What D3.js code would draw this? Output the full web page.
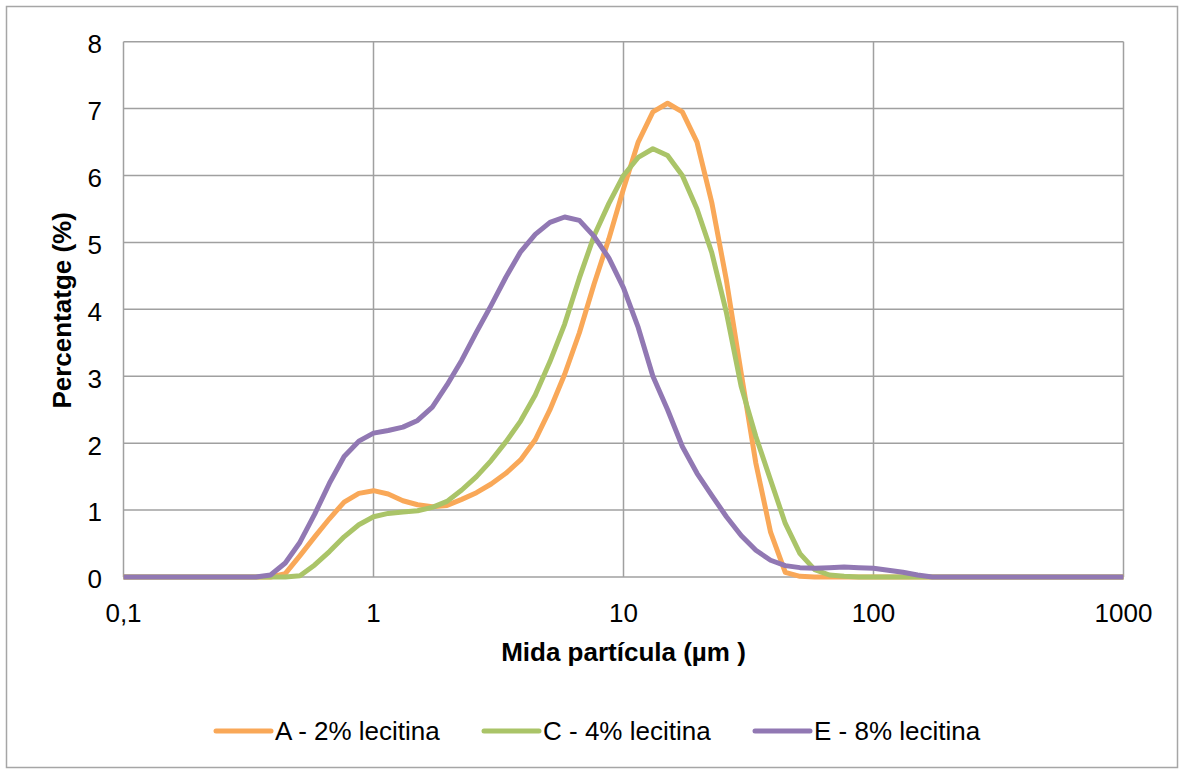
<!DOCTYPE html>
<html>
<head>
<meta charset="utf-8">
<script src="https://cdn.jsdelivr.net/npm/d3@7"></script>
<style>
  body { margin: 0; background: #fff; }
  svg { display: block; font-family: "Liberation Sans", Arial, sans-serif; }
</style>
</head>
<body>
<div id="chart"></div>
<script>
// particle sizes (µm)
const sizes = [0.1, 0.2955, 0.3383, 0.3875, 0.4437, 0.5081, 0.5818, 0.6662, 0.7629, 0.8736,
  1.0, 1.145, 1.311, 1.501, 1.719, 1.968, 2.254, 2.581, 2.955, 3.384,
  3.875, 4.437, 5.080, 5.817, 6.661, 7.627, 8.733, 10.0, 11.45, 13.11,
  15.01, 17.19, 19.68, 22.54, 25.81, 29.55, 33.84, 38.75, 44.37, 50.80,
  58.17, 66.61, 76.27, 87.33, 100.0, 114.5, 131.1, 150.1, 171.9, 196.8, 1000];

const serieA = [0, 0, 0, 0, 0.05, 0.32, 0.60, 0.87, 1.12, 1.25,
  1.29, 1.24, 1.14, 1.08, 1.05, 1.07, 1.16, 1.26, 1.39, 1.55,
  1.75, 2.05, 2.50, 3.03, 3.65, 4.38, 5.05, 5.80, 6.50, 6.95,
  7.08, 6.95, 6.50, 5.60, 4.43, 3.05, 1.70, 0.67, 0.07, 0.01,
  0, 0, 0, 0, 0, 0, 0, 0, 0, 0, 0];

const serieC = [0, 0, 0, 0, 0, 0.02, 0.18, 0.38, 0.60, 0.78,
  0.90, 0.95, 0.97, 0.99, 1.04, 1.13, 1.30, 1.50, 1.74, 2.02,
  2.33, 2.72, 3.22, 3.78, 4.47, 5.10, 5.58, 6.00, 6.27, 6.40,
  6.30, 6.00, 5.50, 4.85, 3.95, 2.85, 2.10, 1.45, 0.80, 0.35,
  0.11, 0.03, 0.01, 0, 0, 0, 0, 0, 0, 0, 0];

const serieE = [0, 0, 0, 0.03, 0.21, 0.52, 0.94, 1.40, 1.80, 2.03,
  2.15, 2.19, 2.24, 2.34, 2.54, 2.87, 3.24, 3.66, 4.06, 4.48,
  4.86, 5.12, 5.30, 5.38, 5.33, 5.09, 4.77, 4.32, 3.73, 3.00,
  2.50, 1.95, 1.55, 1.22, 0.90, 0.62, 0.40, 0.25, 0.17, 0.14,
  0.13, 0.14, 0.15, 0.14, 0.13, 0.10, 0.07, 0.03, 0, 0, 0];

const seriesNames = ["A - 2% lecitina", "C - 4% lecitina", "E - 8% lecitina"];
const seriesColors = ["#f9a858", "#aac468", "#9178b3"];
const xTicks = [0.1, 1, 10, 100, 1000];
const yTicks = [0, 1, 2, 3, 4, 5, 6, 7, 8];

const width = 1184, height = 774;
const plot = {left: 123.5, right: 1123.5, top: 41.7, bottom: 577};
const fontSize = 26;

const svg = d3.select("#chart").append("svg")
  .attr("width", width)
  .attr("height", height);

// outer frame
svg.append("rect")
  .attr("x", 6.5).attr("y", 6.5)
  .attr("width", width - 13).attr("height", height - 13)
  .attr("fill", "#fff")
  .attr("stroke", "#a6a6a6")
  .attr("stroke-width", 1.5);

const x = d3.scaleLog().domain([0.1, 1000]).range([plot.left, plot.right]);
const y = d3.scaleLinear().domain([0, 8]).range([plot.bottom, plot.top]);

// grid
const grid = svg.append("g").attr("stroke", "#a0a0a0").attr("stroke-width", 1.5);
grid.selectAll(".hg").data(yTicks).join("line")
  .attr("x1", plot.left).attr("x2", plot.right)
  .attr("y1", d => y(d)).attr("y2", d => y(d));
grid.selectAll(".vg").data(xTicks).join("line")
  .attr("x1", d => x(d)).attr("x2", d => x(d))
  .attr("y1", plot.top).attr("y2", plot.bottom);

// tick labels
svg.append("g").selectAll("text").data(yTicks).join("text")
  .attr("x", 102)
  .attr("y", d => y(d) + 2)
  .attr("dy", "0.36em")
  .attr("text-anchor", "end")
  .attr("font-size", fontSize)
  .attr("fill", "#000")
  .text(d => d);

svg.append("g").selectAll("text").data(xTicks).join("text")
  .attr("x", d => x(d))
  .attr("y", 622)
  .attr("text-anchor", "middle")
  .attr("font-size", fontSize)
  .attr("fill", "#000")
  .text(d => d === 0.1 ? "0,1" : d);

// axis titles
svg.append("text")
  .attr("x", (plot.left + plot.right) / 2)
  .attr("y", 661)
  .attr("text-anchor", "middle")
  .attr("font-size", fontSize)
  .attr("font-weight", "bold")
  .text("Mida partícula (µm )");

svg.append("text")
  .attr("transform", `translate(70.5,${(plot.top + plot.bottom) / 2 + 1}) rotate(-90)`)
  .attr("text-anchor", "middle")
  .attr("font-size", fontSize)
  .attr("font-weight", "bold")
  .text("Percentatge (%)");

// series
const seriesData = [serieA, serieC, serieE];
const line = d3.line()
  .x((d, i) => x(sizes[i]))
  .y(d => y(d));

svg.append("g").selectAll("path").data(seriesData).join("path")
  .attr("d", line)
  .attr("fill", "none")
  .attr("stroke", (d, i) => seriesColors[i])
  .attr("stroke-width", 5)
  .attr("stroke-linejoin", "round");

// legend
const legendX = [216, 484, 755];
const legend = svg.append("g").selectAll("g").data(seriesNames).join("g")
  .attr("transform", (d, i) => `translate(${legendX[i]},731)`);
legend.append("line")
  .attr("x1", 0).attr("x2", 55)
  .attr("stroke", (d, i) => seriesColors[i])
  .attr("stroke-width", 5)
  .attr("stroke-linecap", "round");
legend.append("text")
  .attr("x", 59)
  .attr("dy", "0.36em")
  .attr("font-size", fontSize)
  .text(d => d);
</script>
</body>
</html>
